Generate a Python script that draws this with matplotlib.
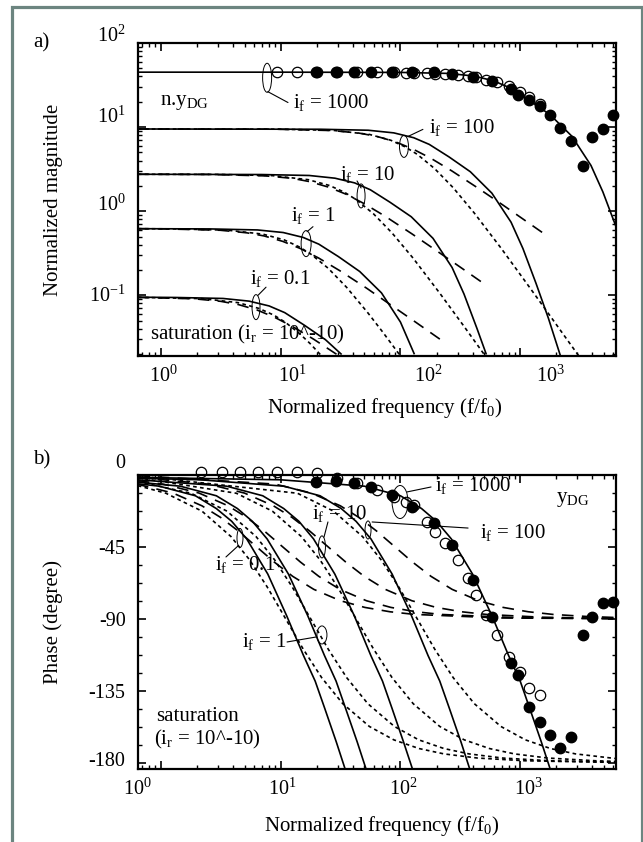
import numpy as np
import matplotlib
matplotlib.use("Agg")
import matplotlib.pyplot as plt
from matplotlib.patches import Ellipse, Rectangle
from matplotlib.transforms import ScaledTranslation
import matplotlib.ticker as mticker

# ---------------- DATA ----------------
# --- panel a) magnitude ---
f_mag_1000_solid = [0.64, 10, 100, 250, 410, 600, 810, 1180, 1780, 2700, 3900, 4900, 6300]
m_mag_1000_solid = [45, 45, 44.7, 43.5, 40.5, 35.5, 29.5, 21, 14, 7.8, 3.5, 1.7, 0.66]

f_mag_100_solid = [0.64, 21.5, 53.8, 88, 129, 174, 254, 383, 580, 839, 1054, 1355, 1720, 2150]
m_mag_100_solid = [9.5, 9.43, 9.18, 8.54, 7.48, 6.23, 4.43, 2.95, 1.64, 0.74, 0.36, 0.139, 0.0534, 0.0198]
f_mag_10_solid = [0.64, 6.9, 17.3, 28.4, 41.5, 56, 81.7, 123, 187, 270, 339, 436, 519]
m_mag_10_solid = [2.75, 2.73, 2.66, 2.47, 2.17, 1.80, 1.28, 0.86, 0.476, 0.214, 0.104, 0.0402, 0.0202]
f_mag_1_solid = [0.64, 2.57, 6.4, 10.5, 15.4, 20.8, 30.3, 45.7, 69.4, 100, 130]
m_mag_1_solid = [0.62, 0.616, 0.599, 0.558, 0.488, 0.406, 0.289, 0.192, 0.107, 0.0481, 0.0203]
f_mag_01_solid = [0.64, 1.33, 3.3, 5.45, 8.0, 10.8, 15.7, 23.7, 31.9]
m_mag_01_solid = [0.095, 0.0943, 0.0918, 0.0853, 0.0748, 0.0623, 0.0443, 0.0296, 0.0201]

f_mag_100_dash = [0.64, 9, 27, 45, 63, 90, 126, 180, 270, 450, 720, 1170, 1710]
m_mag_100_dash = [9.5, 9.45, 9.1, 8.49, 7.78, 6.72, 5.52, 4.25, 3.0, 1.86, 1.18, 0.729, 0.5]
f_mag_10_dash = [0.64, 2.5, 7.5, 12.5, 17.4, 24.9, 34.9, 49.8, 74.7, 124.5, 199, 324, 523]
m_mag_10_dash = [2.75, 2.74, 2.63, 2.46, 2.25, 1.94, 1.6, 1.23, 0.869, 0.539, 0.341, 0.211, 0.131]
f_mag_1_dash = [0.64, 1.04, 3.12, 5.2, 7.28, 10.4, 14.6, 20.8, 31.2, 52, 83, 135, 218]
m_mag_1_dash = [0.62, 0.617, 0.594, 0.554, 0.508, 0.438, 0.36, 0.277, 0.196, 0.122, 0.0769, 0.0476, 0.0295]
f_mag_01_dash = [0.64, 1.89, 3.15, 4.41, 6.3, 8.8, 12.6, 18.9, 31.5, 40]
m_mag_01_dash = [0.0945, 0.091, 0.0849, 0.0778, 0.0672, 0.0552, 0.0425, 0.03, 0.0186, 0.0148]

f_mag_100_dot = [0.64, 9.7, 27.6, 55, 83, 110, 138, 193, 276, 414, 690, 1104, 1656, 2346, 3174]
m_mag_100_dot = [9.5, 9.45, 9.14, 8.19, 6.98, 5.8, 4.75, 3.21, 1.9, 0.95, 0.366, 0.146, 0.0656, 0.0328, 0.018]
f_mag_10_dot = [0.64, 3.0, 8.5, 17, 25.6, 34.1, 42.6, 59.6, 85.2, 128, 213, 341, 533]
m_mag_10_dot = [2.75, 2.74, 2.65, 2.37, 2.02, 1.68, 1.375, 0.93, 0.55, 0.275, 0.106, 0.0424, 0.0175]
f_mag_1_dot = [0.64, 1.25, 3.56, 7.1, 10.7, 14.2, 17.8, 24.9, 35.6, 53.4, 71.2, 107]
m_mag_1_dot = [0.62, 0.617, 0.596, 0.534, 0.456, 0.378, 0.31, 0.21, 0.124, 0.062, 0.0365, 0.0167]
f_mag_01_dot = [0.64, 2.2, 4.4, 6.6, 8.8, 11, 14.3, 17.6, 23.1]
m_mag_01_dot = [0.0946, 0.0914, 0.0819, 0.0698, 0.058, 0.0475, 0.0353, 0.0267, 0.0176]

f_filled = [19.7, 28.8, 40.7, 57.3, 84.9, 126, 191, 267, 402, 587, 838, 959, 1194,
            1466, 1774, 2159, 2673, 3335, 3991, 4944, 5929]
m_filled = [45.1, 45.1, 45.1, 45.1, 45.1, 45.1, 45.1, 43, 39.4, 34.9, 28.4, 24.3, 21.2,
            17.7, 14.1, 9.8, 6.8, 3.47, 7.6, 9.6, 14.1]
f_open_mag = [9.31, 13.8, 20.0, 29.3, 43.4, 63.3, 88.2, 112, 131, 166, 195, 237, 300,
              366, 428, 522, 635, 805, 1004, 1194, 1466]
m_open = [45, 45, 45, 45, 45, 45, 45, 44.5, 44, 43.5, 43, 42.5, 41.9,
          41, 39.5, 36.5, 34, 30.5, 26.5, 22.5, 19]

# --- panel b) phase (degree) ---
f_ph_1000_solid = [0.64, 10, 50, 100, 150, 200, 266, 400, 580, 800, 1000, 1200, 1500, 1780, 1900]
p_ph_1000_solid = [-1.5, -3, -7, -13, -21, -29, -40, -62, -88, -113, -129, -146, -167, -184, -192]
f_ph_100_solid = [0.64, 2.13, 10.65, 21.3, 32, 42.6, 56.7, 85.2, 123.5, 170, 213, 256, 320, 379, 405]
p_ph_100_solid = [-2, -3, -7, -13, -21, -29, -40, -62, -88, -113, -129, -146, -167, -184, -192]
f_ph_10_solid = [0.64, 3.54, 7.08, 10.6, 14.2, 18.8, 28.3, 41.1, 56.6, 70.8, 85, 106, 126, 134.5]
p_ph_10_solid = [-3, -7, -13, -21, -29, -40, -62, -88, -113, -129, -146, -167, -184, -192]
f_ph_1_solid = [0.64, 1.45, 2.9, 4.35, 5.8, 7.7, 11.6, 16.8, 23.2, 29, 34.8, 43.5, 51.6, 55]
p_ph_1_solid = [-4.5, -7, -13, -21, -29, -40, -62, -88, -113, -129, -146, -167, -184, -192]
f_ph_01_solid = [0.64, 0.97, 1.94, 2.9, 3.9, 5.2, 7.8, 11.2, 15.5, 19.4, 23.3, 29.1, 34.5, 36.9]
p_ph_01_solid = [-5.5, -7, -13, -21, -29, -40, -62, -88, -113, -129, -146, -167, -184, -192]

p_dash = [-5.71, -11.31, -19.29, -26.57, -34.99, -45, -54.46, -63.43, -71.57, -78.69, -82.87, -85.6, -87.27]
f_ph_01_dash = [0.63, 1.26, 2.2, 3.15, 4.41, 6.3, 8.82, 12.6, 18.9, 31.5, 50.4, 81.9, 132, 700, 6300]
p_ph_01_dash = p_dash + [-89.5, -89.9]
f_ph_1_dash = [0.64, 1.04, 2.08, 3.64, 5.2, 7.28, 10.4, 14.6, 20.8, 31.2, 52, 83.2, 135, 218, 1000, 6300]
p_ph_1_dash = [-3.5] + p_dash + [-89.4, -89.9]
f_ph_10_dash = [0.64, 2.49, 4.98, 8.7, 12.45, 17.4, 24.9, 34.9, 49.8, 74.7, 124.5, 199, 324, 523, 1500, 6300]
p_ph_10_dash = [-1.47] + p_dash + [-89.0, -89.8]
f_ph_100_dash = [0.64, 9, 18, 31.5, 45, 63, 90, 126, 180, 270, 450, 720, 1170, 1890, 3500, 6300]
p_ph_100_dash = [-0.41] + p_dash + [-88.5, -89.2]

p_dot = [-11.42, -22.62, -38.58, -53.13, -69.98, -90, -108.92, -126.87, -143.13,
         -157.38, -165.75, -171.2, -174.55, -177.14, -178.85, -179.71]
f_ph_01_dot = [0.64, 1.1, 2.2, 3.85, 5.5, 7.7, 11, 15.4, 22, 33, 55, 88, 143, 231, 440, 1100, 4400, 6400]
p_ph_01_dot = [-6.65] + p_dot + [-179.8]
f_ph_1_dot = [0.64, 1.78, 3.56, 6.23, 8.9, 12.46, 17.8, 24.9, 35.6, 53.4, 89, 142, 231, 374, 712, 1780, 6400]
p_ph_1_dot = [-4.12] + p_dot[:-1] + [-179.68]
f_ph_10_dot = [0.64, 4.26, 8.52, 14.9, 21.3, 29.8, 42.6, 59.6, 85.2, 127.8, 213, 341, 554, 895, 1704, 4260, 6400]
p_ph_10_dot = [-1.72] + p_dot[:-1] + [-179.24]
f_ph_100_dot = [0.64, 13.8, 27.6, 48.3, 69, 96.6, 138, 193, 276, 414, 690, 1104, 1794, 2898, 6400]
p_ph_100_dot = [-0.53] + p_dot[:13] + [-177.53]

p_filled = [-4.2, -3.8, -5.2, -7.3, -12.5, -19.8, -30.2, -43.8, -65.7, -89.0, -117.8, -125.2, -145.0,
            -154.4, -162.7, -171.0, -163.8, -100.1, -88.7, -80.3, -79.3]
f_open_ph = [2.16, 3.21, 4.58, 6.43, 9.31, 13.8, 20.0, 29.3, 43.4, 63.3, 88.2, 112, 131, 166, 195,
             237, 300, 366, 428, 522, 635, 805, 1004, 1194, 1466]
p_open = [1.9, 1.9, 1.9, 1.9, 1.9, 1.9, 1.25, -1.9, -5.0, -9.4, -13.8, -16.9, -18.8, -29.4, -35.7,
          -42.6, -53.2, -64.5, -75.1, -87.6, -100.1, -113.9, -123.3, -133.3, -137.7]

mag_ticks = [0.1, 1, 10, 100]
mag_ticklabels = [r'$10^{-1}$', r'$10^{0}$', r'$10^{1}$', r'$10^{2}$']
freq_ticks = [1, 10, 100, 1000]
freq_ticklabels = [r'$10^{0}$', r'$10^{1}$', r'$10^{2}$', r'$10^{3}$']
phase_ticks = [0, -45, -90, -135, -180]
phase_ticklabels = ['0', '-45', '-90', '-135', '-180']

# ---------------- STYLE ----------------
plt.rcParams['font.family'] = ['Liberation Serif', 'DejaVu Serif']
plt.rcParams['mathtext.fontset'] = 'custom'
plt.rcParams['mathtext.rm'] = 'Liberation Serif'
plt.rcParams['mathtext.it'] = 'Liberation Serif:italic'
plt.rcParams['mathtext.bf'] = 'Liberation Serif:bold'
plt.rcParams['mathtext.default'] = 'rm'

W, H, DPI = 643, 842, 100
FS = 15
TFS = 14.5
fig = plt.figure(figsize=(W / DPI, H / DPI), dpi=DPI)
fig.patch.set_facecolor('white')

def rect(l, t, r, b):
    return [l / W, 1 - b / H, (r - l) / W, (b - t) / H]

# grey frame (open at the bottom)
frame_col = '#6c8580'
fig.patches.append(Rectangle((11.5 / W, -0.05), (641.5 - 11.5) / W, 1.05 - 6.5 / H,
                             transform=fig.transFigure, fill=False, ec=frame_col, lw=2.3))

ax1 = fig.add_axes(rect(138, 43, 616, 356))
ax2 = fig.add_axes(rect(138, 475, 616, 769))

SOLID = dict(color='black', lw=1.2, ls='-')
DASH = dict(color='black', lw=1.2, ls=(0, (7, 5)))
DOT = dict(color='black', lw=1.2, ls=(0, (2.2, 2)))

# ---- panel a ----
ax1.plot(f_mag_1000_solid, m_mag_1000_solid, **SOLID)
for fs, ms_ in [(f_mag_100_solid, m_mag_100_solid), (f_mag_10_solid, m_mag_10_solid),
                (f_mag_1_solid, m_mag_1_solid), (f_mag_01_solid, m_mag_01_solid)]:
    ax1.plot(fs, ms_, **SOLID)
for fs, ms_ in [(f_mag_100_dash, m_mag_100_dash), (f_mag_10_dash, m_mag_10_dash),
                (f_mag_1_dash, m_mag_1_dash), (f_mag_01_dash, m_mag_01_dash)]:
    ax1.plot(fs, ms_, **DASH)
for fs, ms_ in [(f_mag_100_dot, m_mag_100_dot), (f_mag_10_dot, m_mag_10_dot),
                (f_mag_1_dot, m_mag_1_dot), (f_mag_01_dot, m_mag_01_dot)]:
    ax1.plot(fs, ms_, **DOT)
ax1.plot(f_open_mag, m_open, ls='none', marker='o', ms=7.5, mfc='none', mec='black', mew=0.9, clip_on=False)
ax1.plot(f_filled, m_filled, ls='none', marker='o', ms=7.5, mfc='black', mec='black', clip_on=False)

ax1.set_xscale('log')
ax1.set_yscale('log')
ax1.set_xlim(0.643, 6310)
ax1.set_ylim(0.019, 100)
ax1.set_yticks(mag_ticks)
ax1.set_yticklabels(mag_ticklabels)
ax1.yaxis.set_minor_locator(mticker.LogLocator(base=10, subs=np.arange(2, 10), numticks=20))
ax1.yaxis.set_minor_formatter(mticker.NullFormatter())

# ---- panel b ----
for fs, ps in [(f_ph_1000_solid, p_ph_1000_solid), (f_ph_100_solid, p_ph_100_solid),
               (f_ph_10_solid, p_ph_10_solid), (f_ph_1_solid, p_ph_1_solid),
               (f_ph_01_solid, p_ph_01_solid)]:
    ax2.plot(fs, ps, **SOLID)
for fs, ps in [(f_ph_01_dash, p_ph_01_dash), (f_ph_1_dash, p_ph_1_dash), (f_ph_10_dash, p_ph_10_dash),
               (f_ph_100_dash, p_ph_100_dash)]:
    ax2.plot(fs, ps, **DASH)
for fs, ps in [(f_ph_01_dot, p_ph_01_dot), (f_ph_1_dot, p_ph_1_dot), (f_ph_10_dot, p_ph_10_dot),
               (f_ph_100_dot, p_ph_100_dot)]:
    ax2.plot(fs, ps, **DOT)
ax2.plot(f_open_ph, p_open, ls='none', marker='o', ms=7.5, mfc='none', mec='black', mew=0.9, clip_on=False)
ax2.plot(f_filled, p_filled, ls='none', marker='o', ms=7.5, mfc='black', mec='black', clip_on=False)

ax2.set_xscale('log')
ax2.set_xlim(0.643, 6310)
ax2.set_ylim(-184, 0)
ax2.set_yticks(phase_ticks)
ax2.set_yticklabels(phase_ticklabels)
ax2.yaxis.set_minor_locator(mticker.MultipleLocator(11.25))

for ax in (ax1, ax2):
    ax.set_xticks(freq_ticks)
    ax.set_xticklabels(freq_ticklabels)
    ax.xaxis.set_minor_locator(mticker.LogLocator(base=10, subs=np.arange(2, 10), numticks=20))
    ax.xaxis.set_minor_formatter(mticker.NullFormatter())
    for s in ax.spines.values():
        s.set_linewidth(1.6)
    ax.tick_params(which='both', direction='in', top=True, right=True, labelsize=TFS)
    ax.tick_params(which='major', length=6, width=1.2)
    ax.tick_params(which='minor', length=3, width=1.0)
    ax.tick_params(axis='y', pad=9)
ax1.tick_params(axis='x', pad=7)
ax2.tick_params(axis='x', pad=7)

# axis labels
ax1.set_ylabel('Normalized magnitude', fontsize=FS)
ax1.yaxis.set_label_coords(-0.157, 0.5)
ax1.set_xlabel(r'Normalized frequency (f/$\mathrm{f_0}$)', fontsize=FS)
ax1.xaxis.set_label_coords(0.515, -(408 - 356) / 313)
ax1.xaxis.label.set_va('center')
ax2.set_ylabel('Phase (degree)', fontsize=FS)
ax2.yaxis.set_label_coords(-0.157, 0.5)
ax2.set_xlabel(r'Normalized frequency (f/$\mathrm{f_0}$)', fontsize=FS)
ax2.xaxis.set_label_coords(0.51, -(826 - 769) / 294)
ax2.xaxis.label.set_va('center')

fig.text(33 / W, 1 - 43 / H, 'a)', fontsize=FS, ha='left', va='center')
fig.text(33 / W, 1 - 460 / H, 'b)', fontsize=FS, ha='left', va='center')

# ---- annotations ----
def ellipse(ax, x, y, wpx, hpx):
    tr = fig.dpi_scale_trans + ScaledTranslation(x, y, ax.transData)
    ax.add_patch(Ellipse((0, 0), wpx / DPI, hpx / DPI, transform=tr, fill=False,
                         ec='black', lw=0.7, clip_on=False))

def leader(ax, p0, p1):
    ax.annotate('', xy=p0, xytext=p1, arrowprops=dict(arrowstyle='-', lw=0.8, color='black',
                                                      shrinkA=0, shrinkB=0))

def label(ax, x, y, s):
    ax.text(x, y, s, fontsize=FS, ha='left', va='center')

# panel a
label(ax1, 0.98, 19.5, r'n.$\mathrm{y_{DG}}$')
ellipse(ax1, 7.7, 38.6, 9, 29); leader(ax1, (7.8, 26.4), (11.5, 19.6))
label(ax1, 12.7, 19.5, r'$\mathrm{i_f}$ = 1000')
ellipse(ax1, 107, 5.9, 9, 22); leader(ax1, (116, 7.76), (154, 9.4))
label(ax1, 174, 10.0, r'$\mathrm{i_f}$ = 100')
ellipse(ax1, 46.9, 1.52, 8, 24); leader(ax1, (43.4, 2.29), (46.9, 1.89))
label(ax1, 31.3, 2.77, r'$\mathrm{i_f}$ = 10')
ellipse(ax1, 16.3, 0.412, 10, 26); leader(ax1, (18.6, 0.655), (16.6, 0.571))
label(ax1, 12.2, 0.883, r'$\mathrm{i_f}$ = 1')
ellipse(ax1, 6.22, 0.0724, 8, 25); leader(ax1, (6.46, 0.1), (7.54, 0.125))
label(ax1, 5.54, 0.159, r'$\mathrm{i_f}$ = 0.1')
label(ax1, 0.81, 0.0338, r'saturation ($\mathrm{i_r}$ = 10^-10)')

# panel b
ellipse(ax2, 99.3, -16.9, 16, 33); leader(ax2, (113.5, -10.6), (180, -7.5))
label(ax2, 194.5, -6.3, r'$\mathrm{i_f}$ = 1000')
label(ax2, 1995, -15.6, r'$\mathrm{y_{DG}}$')
ellipse(ax2, 53.6, -34.4, 6, 18); leader(ax2, (58, -29.4), (367, -33.2))
label(ax2, 462, -35.7, r'$\mathrm{i_f}$ = 100')
ellipse(ax2, 22.1, -45, 7, 22); leader(ax2, (24.8, -29.4), (23, -38.8))
label(ax2, 18.3, -23.8, r'$\mathrm{i_f}$ = 10')
ellipse(ax2, 4.57, -39.4, 6, 19); leader(ax2, (3.49, -51.3), (4.4, -44.4))
label(ax2, 2.83, -56.3, r'$\mathrm{i_f}$ = 0.1')
ellipse(ax2, 22.1, -100.1, 10, 18); leader(ax2, (11.3, -104.5), (19.7, -101.4))
label(ax2, 4.75, -104.5, r'$\mathrm{i_f}$ = 1')
label(ax2, 0.91, -151.4, 'saturation')
label(ax2, 0.875, -165.8, r'($\mathrm{i_r}$ = 10^-10)')

# ---- tick-label offsets (the reference's labels sit off their ticks) ----
def shift_labels(ticks, offsets):
    for t, (dx, dy) in zip(ticks, offsets):
        t.label1.set_transform(t.label1.get_transform() +
                               ScaledTranslation(dx / DPI, dy / DPI, fig.dpi_scale_trans))

shift_labels(ax1.xaxis.get_major_ticks(), [(2, 0), (12, 0), (28, 0), (30, 0)])
shift_labels(ax2.xaxis.get_major_ticks(), [(-24, 0), (2, 0), (3, 0), (8, 0)])
shift_labels(ax1.yaxis.get_major_ticks(), [(0, 2), (0, 9), (0, 12), (0, 9)])
shift_labels(ax2.yaxis.get_major_ticks(), [(0, 14), (0, 0), (0, 0), (0, 0), (0, 4)])

fig.savefig('out.png', dpi=DPI, facecolor='white')
